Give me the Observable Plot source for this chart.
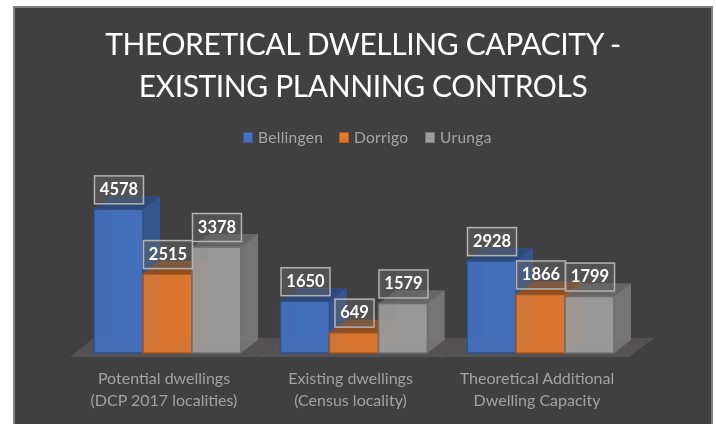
<!DOCTYPE html>
<html>
<head>
<meta charset="utf-8">
<script src="https://cdn.jsdelivr.net/npm/d3@7"></script>
<script src="https://cdn.jsdelivr.net/npm/@observablehq/plot@0.6"></script>
<style>
  html, body { margin: 0; padding: 0; background: #fff; overflow: hidden; width: 716px; height: 424px; }
  #panel { position: absolute; left: 13px; top: 6px; width: 700px; height: 418px; box-sizing: border-box;
           background: #404040; border: 2px solid #7f7f7f; border-bottom: none; }
  #title { position: absolute; left: 5px; top: 22px; width: 716px; text-align: center; color: #fff;
           font: 400 30px/42px Lato, sans-serif; letter-spacing: -0.4px; filter: blur(0.35px); }
  #legend { position: absolute; top: 126px; left: 0; width: 716px; height: 22px; color: #a6a6a6;
            font: 400 15.5px/22px Lato, sans-serif; letter-spacing: 0.3px; filter: blur(0.35px); }
  #legend span { position: absolute; white-space: nowrap; }
  #legend i { position: absolute; top: 6px; width: 8px; height: 9px; border: 1px solid; }
  #chart { position: absolute; left: 0; top: 160px; filter: blur(0.35px); }
  #chart svg { display: block; overflow: visible; }
</style>
</head>
<body>
<div id="panel"></div>
<div id="title">THEORETICAL DWELLING CAPACITY -<br>EXISTING PLANNING CONTROLS</div>
<div id="legend"></div>
<div id="chart"></div>
<script>
const titleFont = "Lato, sans-serif";
const categories = ["Potential dwellings\n(DCP 2017 localities)", "Existing dwellings\n(Census locality)", "Theoretical Additional\nDwelling Capacity"];
const seriesNames = ["Bellingen", "Dorrigo", "Urunga"];
const seriesColors = ["#4470c0", "#e0782f", "#9c9c9c"];
const bellingen = [4578, 1650, 2928];
const dorrigo = [2515, 649, 1866];
const urunga = [3378, 1579, 1799];
const seriesValues = [bellingen, dorrigo, urunga];

const rows = categories.flatMap((category, c) =>
  seriesNames.map((series, s) => ({category, series, value: seriesValues[s][c]})));

const depthX = 17, depthY = 13;

function svgEl(name) { return document.createElementNS("http://www.w3.org/2000/svg", name); }
function poly(parent, pts, fill, stroke, width) {
  const p = svgEl("polygon");
  p.setAttribute("points", pts.map(d => d.join(",")).join(" "));
  p.setAttribute("fill", fill);
  if (stroke) { p.setAttribute("stroke", stroke); p.setAttribute("stroke-width", width || 1); }
  else p.setAttribute("stroke", "none");
  parent.appendChild(p);
}
function shade(color, k, alpha) {
  const c = d3.color(color).darker(k);
  c.opacity = alpha;
  return c.formatRgb();
}

// Extruded faces of each bar, positioned from the plot's own scales.
function render3d(index, scales, values) {
  const g = svgEl("g");
  const bw = scales.x.bandwidth();
  for (const i of index) {
    const x0 = values.x[i], x1 = x0 + bw;
    const yTop = values.y2[i], yBase = values.y1[i];
    const col = values.fill[i];
    const top = Math.min(yTop, yBase), base = Math.max(yTop, yBase);
    // back face, seen through the translucent front
    poly(g, [[x0 + depthX, top - depthY], [x1 + depthX, top - depthY], [x1 + depthX, base - depthY], [x0 + depthX, base - depthY]], shade(col, 0.35, 0.55));
    // side
    poly(g, [[x1, top], [x1 + depthX, top - depthY], [x1 + depthX, base - depthY], [x1, base]], shade(col, 0.75, 0.88));
    // top
    poly(g, [[x0, top], [x0 + depthX, top - depthY], [x1 + depthX, top - depthY], [x1, top]], shade(col, 1.2, 0.9));
    // front
    poly(g, [[x0, top], [x1, top], [x1, base], [x0, base]], shade(col, 0, 0.93), shade(col, 1.0, 1), 1.5);
  }
  return g;
}

// Floor under the bars, derived from the plot's frame.
function floorMark(index, scales, values, dims) {
  const g = svgEl("g");
  const yBase = dims.height - dims.marginBottom;
  const left = dims.marginLeft, right = dims.width - dims.marginRight;
  poly(g, [[left - 24, yBase + 4], [right + 15, yBase + 4], [right + 40, yBase - 15], [left, yBase - 15]], "#545252");
  return g;
}

function boxedLabel(index, scales, values, dims, context, next) {
  const g = next(index, scales, values, dims, context);
  const first = g.firstChild;
  for (const i of index) {
    const r = svgEl("rect");
    const w = String(values.text[i]).length > 3 ? 49 : 39;
    r.setAttribute("x", values.x[i] - w / 2);
    r.setAttribute("y", values.y[i] - 14);
    r.setAttribute("width", w);
    r.setAttribute("height", 28);
    r.setAttribute("fill", "rgba(105,105,105,0.45)");
    r.setAttribute("stroke", "#b4b4b4");
    r.setAttribute("stroke-width", 1.5);
    g.insertBefore(r, first);
  }
  return g;
}

const plot = Plot.plot({
  width: 716,
  height: 264,
  marginTop: 11,
  marginBottom: 71,
  marginLeft: 94,
  marginRight: 102,
  style: {background: "transparent"},
  fx: {domain: categories, padding: 0.212, round: false, label: null},
  x: {domain: seriesNames, padding: 0, round: false, axis: null},
  y: {domain: [0, 5800], axis: null},
  color: {domain: seriesNames, range: seriesColors},
  marks: [
    floorMark,
    Plot.barY(rows, {fx: "category", x: "series", y: "value", fill: "series", render: render3d}),
    Plot.text(rows, {
      fx: "category", x: "series", y: "value", text: d => String(d.value), dy: -20,
      fill: "#fff", fontWeight: 700, fontSize: 16.5, fontFamily: titleFont, render: boxedLabel
    }),
    Plot.axisFx({
      anchor: "bottom", tickSize: 0, tickPadding: 15.5, label: null, lineHeight: 1.35, dx: -4,
      fontSize: 16, fontFamily: titleFont, fill: "#a2a2a2", color: "#a2a2a2"
    })
  ]
});
document.getElementById("chart").appendChild(plot);

// Legend
const legendSwatchX = [243, 339, 425];
const legend = document.getElementById("legend");
seriesNames.forEach((name, i) => {
  const sw = document.createElement("i");
  sw.style.left = legendSwatchX[i] + "px";
  sw.style.background = seriesColors[i];
  sw.style.borderColor = d3.color(seriesColors[i]).darker(0.7).formatRgb();
  legend.appendChild(sw);
  const t = document.createElement("span");
  t.style.left = (legendSwatchX[i] + 15) + "px";
  t.textContent = name;
  legend.appendChild(t);
});
</script>
</body>
</html>
